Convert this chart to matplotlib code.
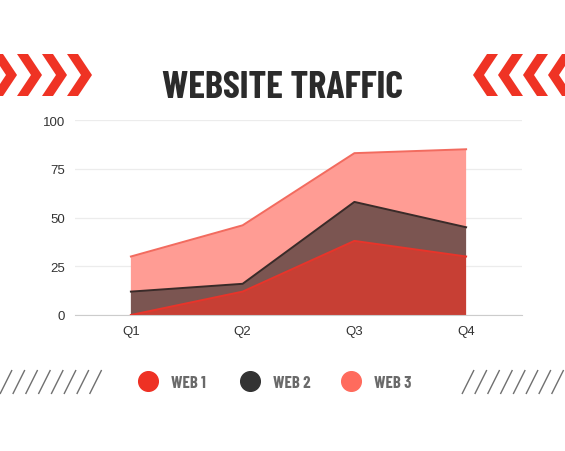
import matplotlib
matplotlib.use("Agg")
import matplotlib.pyplot as plt
from matplotlib.patches import Polygon
import numpy as np

quarters = ["Q1", "Q2", "Q3", "Q4"]
web1 = [0, 12, 38, 30]
web2 = [12, 4, 20, 15]
web3 = [18, 30, 25, 40]
names = ["WEB 1", "WEB 2", "WEB 3"]
yticks = [0, 25, 50, 75, 100]

fills = ["#c73f34", "#7b5551", "#ff9c94"]
strokes = ["#e8342a", "#3a2b29", "#f26b5f"]
dots = ["#ee3124", "#333333", "#ff6b5d"]

cond = ["Barlow Condensed", "DejaVu Sans"]

fig = plt.figure(figsize=(5.65, 4.52), dpi=100)
fig.patch.set_facecolor("white")

# overlay in pixel coords for decorations
deco = fig.add_axes([0, 0, 1, 1], zorder=0)
deco.set_xlim(0, 565)
deco.set_ylim(452, 0)
deco.axis("off")

# chevrons
top, bot, mid = 55, 97, 76
w, d = 11, 14
for x0 in [-8, 17, 42, 67]:
    pts = [(x0, top), (x0 + w, top), (x0 + w + d, mid), (x0 + w, bot), (x0, bot), (x0 + d, mid)]
    deco.add_patch(Polygon(pts, closed=True, color="#ef3324", lw=0))
    deco.add_patch(Polygon([(565 - px, py) for px, py in pts], closed=True, color="#ef3324", lw=0))

# hatch lines
for i in range(8):
    xb = i * 12.8
    deco.plot([xb, xb + 12], [395, 371], color="#707070", lw=1.0, solid_capstyle="butt")
    xb = 462 + i * 12.8
    deco.plot([xb, xb + 12], [395, 371], color="#707070", lw=1.0, solid_capstyle="butt")

# title
deco.text(282.5, 87.5, "WEBSITE TRAFFIC", ha="center", va="center", fontsize=27.5,
          fontweight="bold", color="#2b2b2b", family=cond)

# legend
leg_x = [148, 250, 351]
for cx, name, c in zip(leg_x, names, dots):
    deco.scatter([cx], [382], s=200, color=c, zorder=3)
    deco.text(cx + 23, 383.5, name, ha="left", va="center", fontsize=12,
              fontweight="bold", color="#6a6a6a", family=cond)

ax = fig.add_axes([75 / 565, 1 - 316 / 452, (522 - 75) / 565, (316 - 121) / 452], zorder=1)
ax.patch.set_alpha(0)
x = np.arange(len(quarters))
ax.stackplot(x, web1, web2, web3, colors=fills, lw=0, zorder=2)
tops = np.cumsum([web1, web2, web3], axis=0)
for t, c in zip(tops, strokes):
    ax.plot(x, t, color=c, lw=1.4, zorder=3)

ax.set_xlim(-0.5, 3.5)
ax.set_ylim(0, 100)
ax.set_yticks(yticks)
ax.set_xticks(x)
ax.set_xticklabels(quarters)
ax.grid(axis="y", color="#ececec", lw=0.9, zorder=0)
ax.set_axisbelow(True)
for s in ["top", "right", "left"]:
    ax.spines[s].set_visible(False)
ax.spines["bottom"].set_color("#cccccc")
ax.tick_params(length=0, labelsize=9.5, labelcolor="#333333")
ax.tick_params(axis="y", pad=7)
ax.tick_params(axis="x", pad=7)
for lab in ax.get_xticklabels() + ax.get_yticklabels():
    lab.set_family("Liberation Sans")

fig.savefig("out.png", dpi=100)
